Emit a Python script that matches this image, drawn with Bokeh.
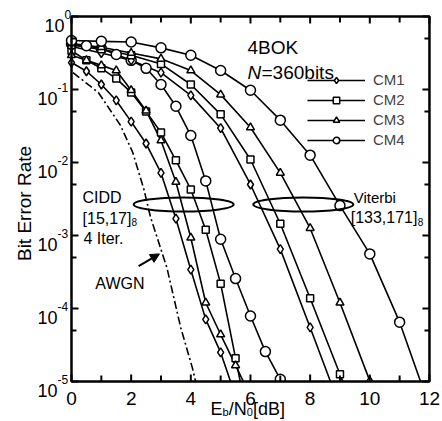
import math
from bokeh.plotting import figure
from bokeh.models import Range1d, Legend, LegendItem, Label, Arrow, NormalHead
from bokeh.embed import file_html
from bokeh.resources import INLINE

# ---------------- data ----------------
series_names = ["CM1", "CM2", "CM3", "CM4"]

# Viterbi [133,171]8
vit_ebn0_cm1 = [0, 1, 2, 3, 4, 5, 6, 7, 8, 9]
vit_ber_cm1 = [0.389, 0.316, 0.251, 0.17, 0.083, 0.0295, 5.0e-3, 6.5e-4, 5.5e-5, 4.5e-6]
vit_ebn0_cm2 = [0, 1, 2, 3, 4, 5, 6, 7, 8, 9, 10]
vit_ber_cm2 = [0.407, 0.355, 0.295, 0.224, 0.117, 0.0457, 0.011, 1.45e-3, 1.38e-4, 1.26e-5, 1.1e-6]
vit_ebn0_cm3 = [0, 1, 2, 3, 4, 5, 6, 7, 8, 9, 10]
vit_ber_cm3 = [0.427, 0.38, 0.316, 0.263, 0.182, 0.085, 0.0302, 7.2e-3, 1.26e-3, 1.2e-4, 1.02e-5]
vit_ebn0_cm4 = [0, 1, 2, 3, 4, 5, 6, 7, 8, 9, 10, 11, 12]
vit_ber_cm4 = [0.468, 0.457, 0.447, 0.372, 0.295, 0.182, 0.0977, 0.038, 0.0126, 2.57e-3, 5.6e-4, 6.5e-5, 4.5e-6]

# CIDD [15,17]8, 4 iterations
cidd_ebn0_cm1 = [0, 0.5, 1, 1.5, 2, 2.5, 3, 3.5, 4, 4.5, 5, 5.5]
cidd_ber_cm1 = [0.234, 0.178, 0.117, 0.0708, 0.0363, 0.0182, 7.2e-3, 1.7e-3, 3.4e-4, 7.1e-5, 2.5e-5, 6.3e-6]
cidd_ebn0_cm2 = [0, 0.5, 1, 1.5, 2, 2.5, 3, 3.5, 4, 4.5, 5, 5.5, 6]
cidd_ber_cm2 = [0.339, 0.251, 0.195, 0.141, 0.0912, 0.0501, 0.0257, 0.0107, 4.27e-3, 1.2e-3, 2.19e-4, 2.09e-5, 2.0e-6]
cidd_ebn0_cm3 = [0, 0.5, 1, 1.5, 2, 2.5, 3, 3.5, 4, 4.5, 5, 5.5, 6]
cidd_ber_cm3 = [0.295, 0.251, 0.214, 0.182, 0.0977, 0.0513, 0.02, 5.4e-3, 9.3e-4, 1.2e-4, 4.4e-5, 1.66e-5, 6.3e-6]
cidd_ebn0_cm4 = [0, 0.5, 1, 1.5, 2, 2.5, 3, 3.5, 4, 4.5, 5, 5.5, 6, 6.5, 7]
cidd_ber_cm4 = [0.417, 0.398, 0.363, 0.302, 0.251, 0.195, 0.117, 0.0589, 0.0234, 5.6e-3, 8.9e-4, 2.57e-4, 7.9e-5, 2.57e-5, 1.07e-5]

# AWGN reference
awgn_ebn0 = [0.05, 0.9, 1.64, 2.05, 2.42, 2.65, 3.2, 3.66, 4.05, 4.16]
awgn_ber = [0.17, 0.091, 0.0324, 0.0138, 4.4e-3, 1.78e-3, 3.6e-4, 5.5e-5, 1.55e-5, 1.0e-5]

# ellipses grouping the curves
ellipse_ebn0 = [3.76, 7.77]
ellipse_ber = [2.66e-3, 2.66e-3]

# axes
X0, X1 = 0, 12
Y0, Y1 = 1e-5, 1
x_ticks = [0, 2, 4, 6, 8, 10, 12]
x_tick_labels = ["0", "2", "4", "6", "8", "10", "12"]
x_minor_ticks = [1, 3, 5, 7, 9, 11]
y_ticks = [1e-5, 1e-4, 1e-3, 1e-2, 1e-1, 1]
y_tick_exponents = ["-5", "-4", "-3", "-2", "-1", "0"]
y_minor_ticks = [5e-5, 5e-4, 5e-3, 5e-2, 5e-1]

# ---------------- layout (screen geometry) ----------------
FONT = "Liberation Sans"
W, H = 440, 419
LEFT, TOP = 71, 16            # pixel position of the plot box corner (EbN0=0, BER=1)
PXD = 29.83                   # pixels per dB
PXL = 73.0                    # pixels per decade


def dx(px):                   # horizontal pixel distance -> dB
    return px / PXD


def dec(px):                  # vertical pixel distance -> BER factor
    return 10 ** (px / PXL)


x_lo = X0 - dx(LEFT)
x_hi = x_lo + dx(W)
y_hi = Y1 * dec(TOP)
y_lo = y_hi / dec(H)

p = figure(width=W, height=H, x_range=Range1d(x_lo, x_hi), y_range=Range1d(y_lo, y_hi),
           y_axis_type="log", x_axis_location=None, y_axis_location=None,
           output_backend="svg", toolbar_location=None, title=None,
           min_border=0, min_border_left=0, min_border_right=0,
           min_border_top=0, min_border_bottom=0)
p.grid.visible = False
p.outline_line_color = None
p.background_fill_color = "white"
p.border_fill_color = "white"

marker_style = {"CM1": ("diamond", 9), "CM2": ("square", 7),
                "CM3": ("triangle", 8), "CM4": ("circle", 10)}

vit = {"CM1": (vit_ebn0_cm1, vit_ber_cm1), "CM2": (vit_ebn0_cm2, vit_ber_cm2),
       "CM3": (vit_ebn0_cm3, vit_ber_cm3), "CM4": (vit_ebn0_cm4, vit_ber_cm4)}
cidd = {"CM1": (cidd_ebn0_cm1, cidd_ber_cm1), "CM2": (cidd_ebn0_cm2, cidd_ber_cm2),
        "CM3": (cidd_ebn0_cm3, cidd_ber_cm3), "CM4": (cidd_ebn0_cm4, cidd_ber_cm4)}

p.line(awgn_ebn0, awgn_ber, line_color="black", line_width=1.6, line_dash="8 3 2 3")

line_r = {}
for tag, group in (("cidd", cidd), ("vit", vit)):
    for name in series_names:
        xs, ys = group[name]
        line_r[(tag, name)] = p.line(xs, ys, line_color="black", line_width=1.6)
legend_items = []
for tag, group in (("cidd", cidd), ("vit", vit)):
    for name in series_names:
        xs, ys = group[name]
        mk, sz = marker_style[name]
        r = p.scatter(xs, ys, marker=mk, size=sz, fill_color="white",
                      line_color="black", line_width=1.5)
        if tag == "vit":
            legend_items.append(LegendItem(label=name, renderers=[line_r[(tag, name)], r]))

# white mask below the plot box (the box clips the curves there)
p.quad(left=[x_lo], right=[x_hi], bottom=[y_lo], top=[Y0], fill_color="white", line_color=None)

# plot box
p.quad(left=[X0], right=[X1], bottom=[Y0], top=[Y1], fill_color=None,
       line_color="black", line_width=2.5)

# inward ticks
tk = dict(line_color="black", line_width=2)
n = len(x_ticks)
m = len(x_minor_ticks)
p.segment(x_ticks, [Y0] * n, x_ticks, [Y0 * dec(7)] * n, **tk)
p.segment(x_minor_ticks, [Y0] * m, x_minor_ticks, [Y0 * dec(6)] * m, **tk)
p.segment(x_ticks, [Y1] * n, x_ticks, [Y1 / dec(7)] * n, **tk)
p.segment(x_minor_ticks, [Y1] * m, x_minor_ticks, [Y1 / dec(6)] * m, **tk)
n = len(y_ticks)
m = len(y_minor_ticks)
p.segment([X0] * n, y_ticks, [X0 + dx(7)] * n, y_ticks, **tk)
p.segment([X0] * m, y_minor_ticks, [X0 + dx(5)] * m, y_minor_ticks, **tk)
p.segment([X1] * n, y_ticks, [X1 - dx(7)] * n, y_ticks, **tk)
p.segment([X1] * m, y_minor_ticks, [X1 - dx(5)] * m, y_minor_ticks, **tk)

legend = Legend(items=legend_items, location=(307, H - 148), glyph_width=58, glyph_height=16,
                label_height=16, spacing=3, padding=0, margin=0, label_standoff=8,
                border_line_color=None, background_fill_alpha=0,
                label_text_font=FONT, label_text_font_size="15px")
p.add_layout(legend)

p.ellipse(x=ellipse_ebn0, y=ellipse_ber, width=100, height=14,
          width_units="screen", height_units="screen",
          fill_color=None, line_color="black", line_width=2)

p.add_layout(Arrow(end=NormalHead(size=9, fill_color="black", line_color="black"),
                   x_start=2.25, y_start=3.8e-4, x_end=2.95, y_end=5.6e-4,
                   line_width=2, line_color="black"))


def lab(x, y, text, size, style="normal", align="left", baseline="alphabetic", angle=0.0):
    p.add_layout(Label(x=x, y=y, text=text, text_font=FONT, text_font_size=size,
                       text_font_style=style, text_color="black", angle=angle,
                       text_baseline=baseline, text_align=align))


# x tick labels
for t, s in zip(x_ticks, x_tick_labels):
    lab(t, Y0 / dec(16.5), s, "19px", align="center")

# y tick labels: "10" with a superscript exponent
for t, e in zip(y_ticks, y_tick_exponents):
    sup_w = 6 if len(e) == 1 else 13
    lab(X0 - dx(1 + sup_w), t * dec(2.5), e, "12px")
    lab(X0 - dx(1 + sup_w), t / dec(8.5), "10", "18px", align="right")

# axis titles
lab(X0 - dx(47), Y1 / dec(187), "Bit Error Rate", "19px", align="center",
    baseline="middle", angle=math.pi / 2)
lab(X0 + dx(139), Y0 / dec(27), "E", "18px")
lab(X0 + dx(151), Y0 / dec(30), "b", "11px")
lab(X0 + dx(157.2), Y0 / dec(27), "/N", "18px")
lab(X0 + dx(175.3), Y0 / dec(30), "0", "11px")
lab(X0 + dx(181.5), Y0 / dec(27), "[dB]", "18px")

# annotations
lab(5.9, 10 ** -0.425, "4BOK", "19px")
lab(5.9, 10 ** -0.767, "N", "19px", "italic")
lab(6.37, 10 ** -0.767, "=360bits", "19px")
lab(0.37, 10 ** -2.48, "CIDD", "16px")
lab(0.37, 10 ** -2.77, "[15,17]", "16px")
lab(2.01, 10 ** -2.82, "8", "10px")
lab(0.4, 10 ** -3.04, "4 Iter.", "16px")
lab(0.8, 10 ** -3.66, "AWGN", "16px")
lab(9.46, 10 ** -2.48, "Viterbi", "15px")
lab(9.36, 10 ** -2.75, "[133,171]", "16px")
lab(11.61, 10 ** -2.81, "8", "10px")

open("out.html", "w").write(file_html(p, INLINE))
